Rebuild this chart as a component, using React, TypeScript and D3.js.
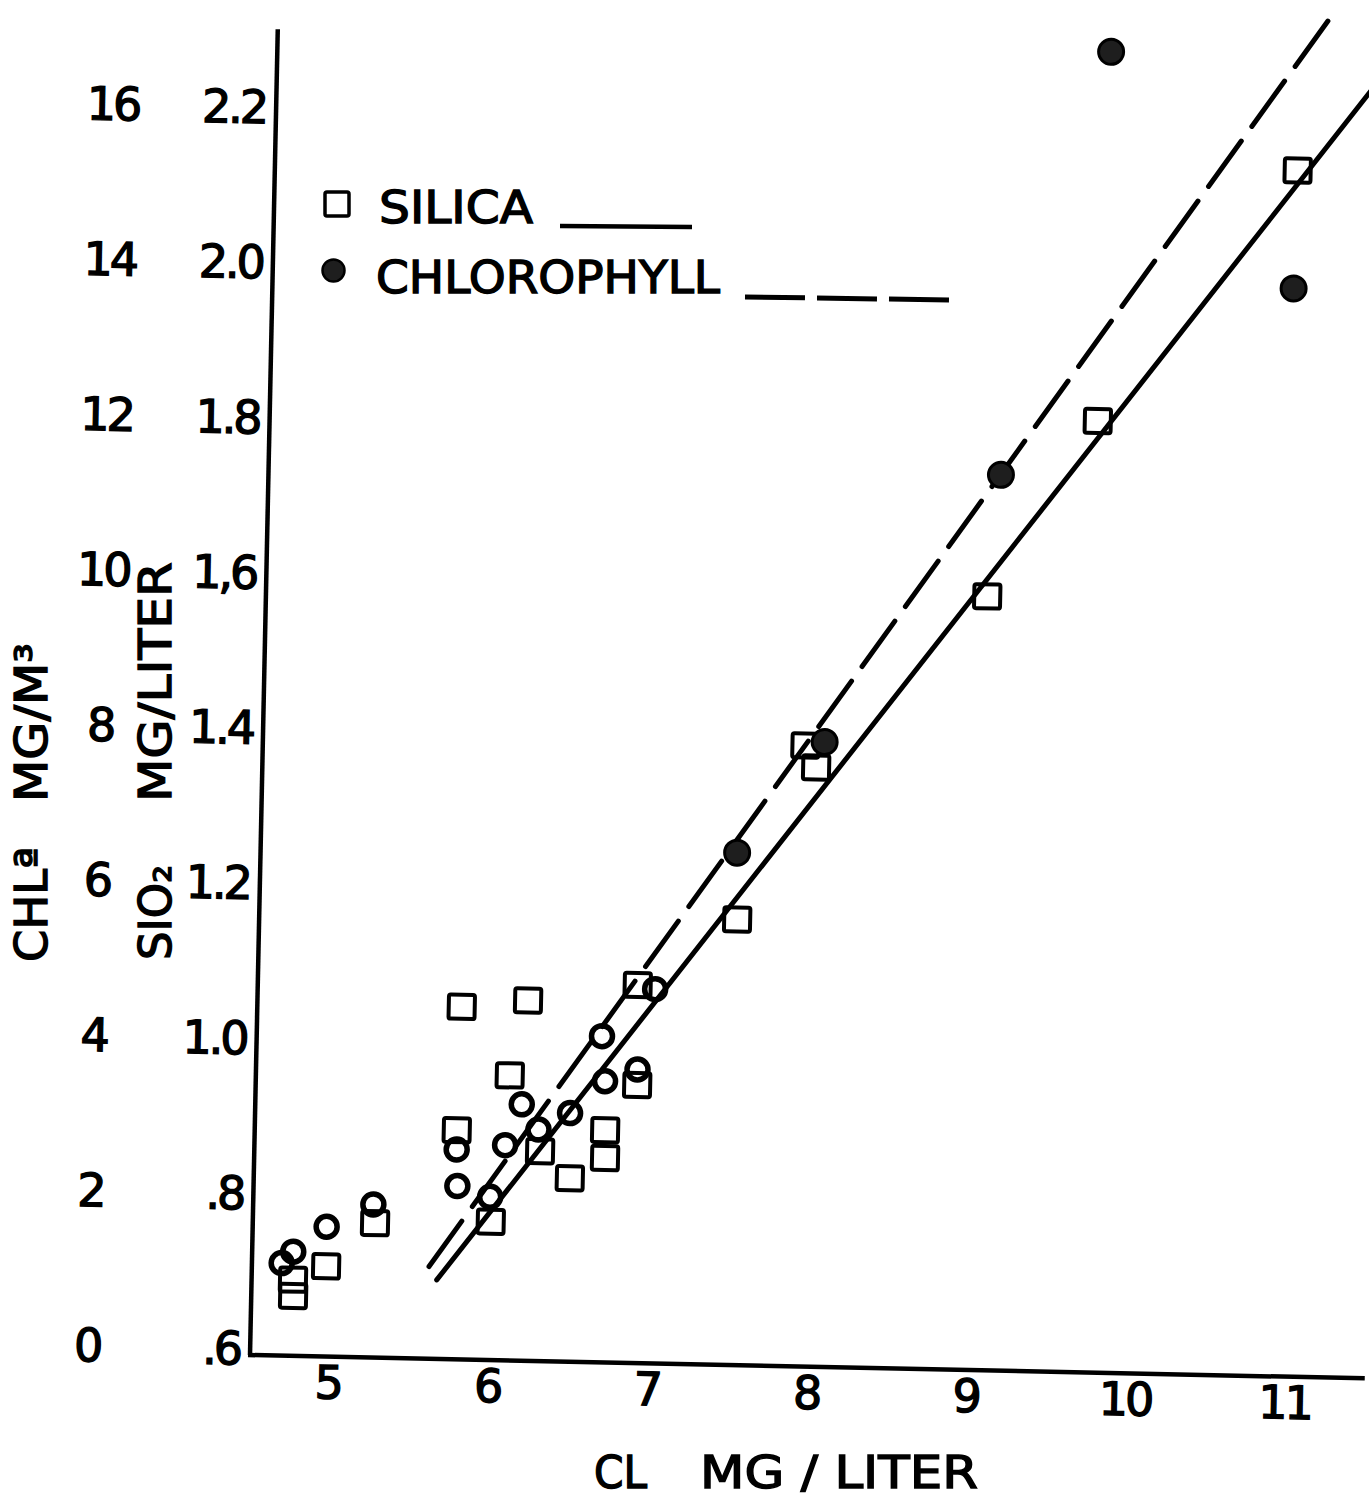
import React from 'react';
import * as d3 from 'd3';

// x ticks (Cl mg/liter)
const CL_TICKS = [5, 6, 7, 8, 9, 10, 11];
// left axis: SiO2 values and how they are printed, plus the Chl a companion scale
const SIO2_TICKS = [0.6, 0.8, 1.0, 1.2, 1.4, 1.6, 1.8, 2.0, 2.2];
const SIO2_LABELS = ['.6', '.8', '1.0', '1.2', '1.4', '1,6', '1.8', '2.0', '2.2'];
const CHL_LABELS = ['0', '2', '4', '6', '8', '10', '12', '14', '16'];

// silica points: Cl (mg/l) vs SiO2 (mg/l)
const silicaCl = [10.92, 9.7, 9.03, 7.91, 7.98, 7.505, 6.89, 5.79, 6.205, 6.1, 6.9,
  5.775, 6.3, 6.705, 6.708, 6.49, 6.0, 5.275, 4.974, 4.768, 4.771];
const silicaSio2 = [2.145, 1.817, 1.588, 1.391, 1.363, 1.165, 1.078, 1.045, 1.055, 0.958, 0.949,
  0.886, 0.861, 0.89, 0.854, 0.827, 0.769, 0.764, 0.707, 0.689, 0.668];

// chlorophyll points: Cl (mg/l) vs Chl a (mg/m3)
const chlCl = [4.766, 4.695, 4.972, 5.262, 5.777, 5.786, 5.993, 6.08, 6.179, 6.287,
  6.483, 6.698, 6.673, 6.9, 7.0, 7.496, 8.03, 9.1, 9.735, 10.91];
const chlA = [1.25, 1.1, 1.58, 1.88, 2.61, 2.14, 2.01, 2.68, 3.21, 2.89,
  3.11, 3.53, 4.11, 3.69, 4.73, 6.51, 7.96, 11.45, 16.93, 13.93];

// fitted lines (end points as drawn)
const silicaFit: [number, number][] = [[5.669, 0.6925], [11.45, 2.272]];
const chlFit: [number, number][] = [[5.619, 1.095], [11.132, 17.51]];

const W = 1369;
const H = 1501;
const ORIGIN = { x: 250, y: 1355 };   // axis corner
const TOP = 29;
const RIGHT = 1365;
const TILT = 1.2;                      // scanned page is slightly rotated
const FONT = '"DejaVu Sans", Verdana, sans-serif';

export default function App() {
  const x = d3.scaleLinear().domain([5, 11]).range([328.4, 1285.4]);
  const ySi = d3.scaleLinear().domain([0.6, 2.2]).range([1347.8, 106.2]);
  const yChl = d3.scaleLinear().domain([0, 16]).range([1347.8, 106.2]);

  const siLine = d3.line<[number, number]>().x(d => x(d[0])).y(d => ySi(d[1]));
  const chlLine = d3.line<[number, number]>().x(d => x(d[0])).y(d => yChl(d[1]));

  const sq = 26;
  const textStroke = { stroke: '#000', strokeWidth: 1.4 };

  return (
    <svg width={W} height={H} viewBox={`0 0 ${W} ${H}`}
      style={{ position: 'absolute', left: 0, top: 0, background: '#fff' }}>
      <rect width={W} height={H} fill="#fff" />
      <g transform={`rotate(${TILT} ${ORIGIN.x} ${ORIGIN.y})`}>
        {/* axes */}
        <line x1={ORIGIN.x} y1={TOP} x2={ORIGIN.x} y2={ORIGIN.y} stroke="#000" strokeWidth={4.5} />
        <line x1={ORIGIN.x - 2} y1={ORIGIN.y} x2={RIGHT} y2={ORIGIN.y} stroke="#000" strokeWidth={4.5} />

        {/* tick labels */}
        <g fontFamily={FONT} fontSize={46} fill="#000" {...textStroke}>
          {CL_TICKS.map(t => (
            <text key={'x' + t} x={x(t)} y={ORIGIN.y + 42} textAnchor="middle" letterSpacing={-3}>{t}</text>
          ))}
          {SIO2_TICKS.map((t, i) => (
            <text key={'s' + t} x={240} y={ySi(t) + 17} textAnchor="end" letterSpacing={-3}>{SIO2_LABELS[i]}</text>
          ))}
          {CHL_LABELS.map((t, i) => (
            <text key={'c' + t} x={87} y={ySi(SIO2_TICKS[i]) + 17} textAnchor="middle" letterSpacing={-3}>{t}</text>
          ))}
        </g>

        {/* fitted lines */}
        <path d={siLine(silicaFit) || ''} fill="none" stroke="#000" strokeWidth={5} strokeLinecap="round" />
        <path d={chlLine(chlFit) || ''} fill="none" stroke="#000" strokeWidth={5}
          strokeDasharray="56 18" strokeLinecap="round" />

        {/* silica squares */}
        {silicaCl.map((c, i) => (
          <rect key={'sq' + i} x={x(c) - sq / 2} y={ySi(silicaSio2[i]) - sq / 2 + 1}
            width={sq} height={sq - 2} rx={2}
            fill="none" stroke="#000" strokeWidth={4} />
        ))}

        {/* chlorophyll circles */}
        {chlCl.map((c, i) => {
          const filled = c > 7.3;
          return (
            <circle key={'ch' + i} cx={x(c)} cy={yChl(chlA[i])} r={filled ? 12.5 : 10.5}
              fill={filled ? '#1e1e1e' : 'none'} stroke="#000" strokeWidth={filled ? 3 : 5.5} />
          );
        })}
      </g>

      {/* legend */}
      <g fontFamily={FONT} fontSize={45} fill="#000" {...textStroke}>
        <rect x={325} y={192} width={24} height={24} rx={2} fill="none" stroke="#000" strokeWidth={3.5} />
        <text x={379} y={223} textLength={154} lengthAdjust="spacingAndGlyphs">SILICA</text>
        <line x1={560} y1={226} x2={692} y2={227} stroke="#000" strokeWidth={4.5} />
        <circle cx={333.5} cy={270.5} r={11} fill="#1e1e1e" stroke="#000" strokeWidth={2.5} />
        <text x={376} y={293} textLength={344} lengthAdjust="spacingAndGlyphs">CHLOROPHYLL</text>
        <line x1={745} y1={297} x2={955} y2={300} stroke="#000" strokeWidth={5} strokeDasharray="60 12" />
      </g>

      {/* axis titles */}
      <g fontFamily={FONT} fontSize={45} fill="#000" {...textStroke}>
        <text x={594} y={1488} textLength={53} lengthAdjust="spacingAndGlyphs">CL</text>
        <text x={700} y={1488} textLength={278} lengthAdjust="spacingAndGlyphs">MG / LITER</text>
        <text transform="translate(47,962) rotate(-90)" textLength={115} lengthAdjust="spacingAndGlyphs">CHLª</text>
        <text transform="translate(47,802) rotate(-90)" textLength={159} lengthAdjust="spacingAndGlyphs">MG/M³</text>
        <text transform="translate(171,960) rotate(-90)">SIO₂</text>
        <text transform="translate(171,802) rotate(-90)" textLength={240} lengthAdjust="spacingAndGlyphs">MG/LITER</text>
      </g>
    </svg>
  );
}
